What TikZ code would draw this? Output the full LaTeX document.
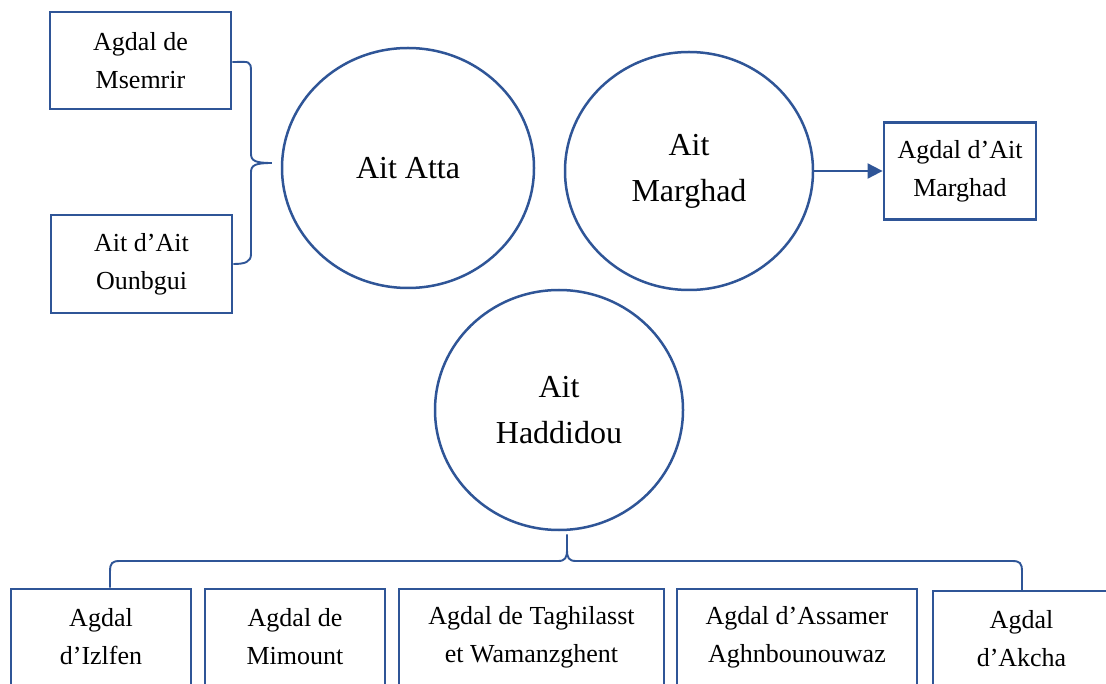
\documentclass[tikz,border=0pt]{standalone}
\usepackage{fontspec}
\setmainfont{Liberation Serif}
\usetikzlibrary{shapes.geometric,arrows.meta,calc}
\definecolor{lineblue}{HTML}{2F5597}
\tikzset{
  box/.style={draw=lineblue, line width=2.8pt, fill=white, inner sep=0pt,
    align=center, font=\fontsize{26}{38}\selectfont},
  tribe/.style={ellipse, draw=lineblue, line width=2.5pt, inner sep=0pt,
    align=center, font=\fontsize{32}{46}\selectfont},
  bracket/.style={draw=lineblue, line width=1.9pt},
  link/.style={draw=lineblue, line width=1.9pt, -{Triangle[length=15pt,width=15pt]}}
}
\begin{document}
\begin{tikzpicture}[x=1pt,y=-1pt]
\useasboundingbox (0,0) rectangle (1106,684);
\clip (0,0) rectangle (1106,684);
\fill[white] (0,0) rectangle (1106,684);

% tribes
\node[tribe, minimum width=252pt, minimum height=240pt] (atta) at (408,168) {Ait Atta};
\node[tribe, minimum width=248pt, minimum height=238pt] (marghad) at (689,171) {Ait\\Marghad};
\node[tribe, minimum width=248pt, minimum height=240pt] (haddidou) at (559,410) {Ait\\Haddidou};

% agdals of Ait Atta
\node[box, minimum width=181pt, minimum height=97pt] (msemrir) at (140.5,60.5) {Agdal de\\Msemrir};
\node[box, minimum width=181pt, minimum height=98pt] (ounbgui) at (141.5,264) {Ait d’Ait\\Ounbgui};

% agdal of Ait Marghad
\node[box, minimum width=152pt, minimum height=97pt] (amarghad) at (960,171) {Agdal d’Ait\\Marghad};

% agdals of Ait Haddidou
\node[box, minimum width=180pt, minimum height=96pt] (izlfen) at (101,637) {Agdal\\d’Izlfen};
\node[box, minimum width=180pt, minimum height=96pt] (mimount) at (295,637) {Agdal de\\Mimount};
\node[box, minimum width=265pt, minimum height=96pt] (taghilasst) at (531.5,637) {Agdal de Taghilasst\\et Wamanzghent};
\node[box, minimum width=240pt, minimum height=96pt] (assamer) at (797,637) {Agdal d’Assamer\\Aghnbounouwaz};
\node[box, minimum width=177pt, minimum height=96pt] (akcha) at (1021.5,639) {Agdal\\d’Akcha};

% brace joining the two left boxes to Ait Atta
\coordinate (tipA) at ($(atta.west)+(-9,-5)$);
\draw[bracket] ($(msemrir.east)+(0,1.5)$) .. controls ++(17,0) and (251,60) .. (251,72)
  -- (251,154) .. controls (251,161) and (256,163) .. (tipA)
  .. controls (256,163) and (251,165) .. (251,172)
  -- (251,254) .. controls (251,262) and (245,264) .. (ounbgui.east);

% arrow from Ait Marghad to its agdal
\draw[link] (marghad.east) -- (amarghad.west);

% brace under Ait Haddidou
\coordinate (tipH) at ($(haddidou.south)+(8,3)$);
\draw[bracket] ($(izlfen.north)+(9,0)$) -- (110,572) .. controls (110,563) and (112,561) .. (120,561)
  -- (558,561) .. controls (565,561) and (567,558) .. (567,550) -- (tipH)
  -- (567,550) .. controls (567,558) and (569,561) .. (576,561)
  -- (1012,561) .. controls (1020,561) and (1022,563) .. (1022,572) -- (1022,590);
\end{tikzpicture}
\end{document}
